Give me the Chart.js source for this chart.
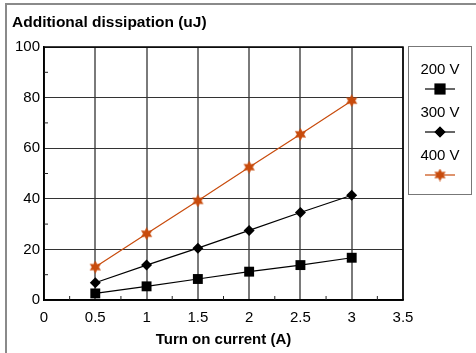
<!DOCTYPE html>
<html>
<head>
<meta charset="utf-8">
<script src="https://cdn.jsdelivr.net/npm/chart.js@4/dist/chart.umd.min.js"></script>
<style>
  body { margin: 0; background: #fff; }
  #wrap { width: 476px; height: 353px; position: relative; }
</style>
</head>
<body>
<div id="wrap"><canvas id="graph" width="476" height="353"></canvas></div>
<script>
// data
var currents = [0.5, 1, 1.5, 2, 2.5, 3];
var v200 = [2.6, 5.4, 8.3, 11.2, 13.8, 16.7];
var v300 = [6.8, 13.8, 20.5, 27.5, 34.6, 41.4];
var v400 = [13.0, 26.2, 39.2, 52.5, 65.5, 78.8];
var seriesNames = ['200 V', '300 V', '400 V'];
var xTicks = [0, 0.5, 1, 1.5, 2, 2.5, 3, 3.5];
var yTicks = [0, 20, 40, 60, 80, 100];

var FONT = '"Liberation Sans", Arial, sans-serif';
var ORANGE = '#c84b0c';

// filled six-point star marker
function starMarker(size, color) {
    var c = document.createElement('canvas');
    c.width = size; c.height = size;
    var g = c.getContext('2d');
    var r = size / 2;
    g.fillStyle = color;
    g.beginPath();
    for (var i = 0; i < 12; i++) {
        var a = -Math.PI / 2 + i * Math.PI / 6;
        var rr = i % 2 ? r * 0.55 : r;
        g.lineTo(r + rr * Math.cos(a), r + rr * Math.sin(a));
    }
    g.closePath();
    g.fill();
    return c;
}
var star = starMarker(13, ORANGE);

function pts(ys) {
    return currents.map(function(x, i) { return { x: x, y: ys[i] }; });
}

var decor = {
    id: 'decor',
    afterDraw: function(chart) {
        var ctx = chart.ctx, a = chart.chartArea;
        var xs = chart.scales.x, ys = chart.scales.y;
        ctx.save();
        // outer frame (top + left only)
        ctx.strokeStyle = '#8a8a8a';
        ctx.lineWidth = 2;
        ctx.beginPath();
        ctx.moveTo(6, 353); ctx.lineTo(6, 4); ctx.lineTo(476, 4);
        ctx.stroke();

        // plot frame
        ctx.strokeStyle = '#000';
        ctx.lineWidth = 1.5;
        ctx.strokeRect(a.left, a.top, a.right - a.left, a.bottom - a.top);

        // minor ticks inside
        ctx.lineWidth = 1;
        ctx.strokeStyle = '#222';
        ctx.beginPath();
        for (var v = 0.25; v < 3.5; v += 0.5) {
            var px = xs.getPixelForValue(v);
            ctx.moveTo(px, a.bottom); ctx.lineTo(px, a.bottom - 4);
        }
        for (var w = 10; w < 100; w += 20) {
            var py = ys.getPixelForValue(w);
            ctx.moveTo(a.left, py); ctx.lineTo(a.left + 4, py);
        }
        ctx.stroke();

        // title
        ctx.fillStyle = '#000';
        ctx.font = 'bold 15.5px ' + FONT;
        ctx.textAlign = 'left';
        ctx.textBaseline = 'alphabetic';
        ctx.fillText('Additional dissipation (uJ)', 12, 27);

        // legend box
        ctx.strokeStyle = '#777';
        ctx.lineWidth = 1;
        ctx.strokeRect(408.5, 46.5, 63, 148);
        ctx.font = '15px ' + FONT;
        ctx.textAlign = 'center';
        ctx.textBaseline = 'middle';
        var cx = 440;
        chart.data.datasets.forEach(function(ds, i) {
            var ty = 70 + i * 43;
            var my = ty + 19;
            ctx.fillStyle = '#000';
            ctx.fillText(ds.label, cx, ty);
            ctx.strokeStyle = ds.borderColor;
            ctx.lineWidth = 1.2;
            ctx.beginPath();
            ctx.moveTo(425, my); ctx.lineTo(455, my);
            ctx.stroke();
            Chart.helpers.drawPoint(ctx, {
                pointStyle: ds.pointStyle,
                radius: ds.pointRadius,
                borderWidth: 0
            }, cx, my);
            if (ds.pointStyle === 'rect' || ds.pointStyle === 'rectRot') {
                ctx.fillStyle = ds.pointBackgroundColor;
                ctx.beginPath();
                if (ds.pointStyle === 'rect') {
                    var s = ds.pointRadius * 0.8;
                    ctx.rect(cx - s, my - s, 2 * s, 2 * s);
                } else {
                    var r = ds.pointRadius;
                    ctx.moveTo(cx, my - r); ctx.lineTo(cx + r, my);
                    ctx.lineTo(cx, my + r); ctx.lineTo(cx - r, my);
                    ctx.closePath();
                }
                ctx.fill();
            }
        });
        ctx.restore();
    }
};

var ctx = document.getElementById('graph').getContext('2d');
var chart = new Chart(ctx, {
    type: 'line',
    data: {
        datasets: [{
            label: seriesNames[0],
            data: pts(v200),
            borderColor: '#000',
            borderWidth: 1.2,
            pointStyle: 'rect',
            pointRadius: 7,
            pointBackgroundColor: '#000',
            pointBorderColor: '#000',
            pointBorderWidth: 0
        }, {
            label: seriesNames[1],
            data: pts(v300),
            borderColor: '#000',
            borderWidth: 1.2,
            pointStyle: 'rectRot',
            pointRadius: 5.5,
            pointBackgroundColor: '#000',
            pointBorderColor: '#000',
            pointBorderWidth: 0
        }, {
            label: seriesNames[2],
            data: pts(v400),
            borderColor: ORANGE,
            borderWidth: 1.2,
            pointStyle: star,
            pointRadius: 6,
            pointBackgroundColor: ORANGE,
            pointBorderColor: ORANGE
        }]
    },
    options: {
        responsive: false,
        animation: false,
        events: [],
        layout: { padding: { left: 0, right: 73, top: 47, bottom: 0 } },
        plugins: {
            legend: { display: false },
            tooltip: { enabled: false }
        },
        scales: {
            x: {
                type: 'linear',
                min: 0,
                max: 3.5,
                afterBuildTicks: function(s) { s.ticks = xTicks.map(function(v) { return { value: v }; }); },
                afterFit: function(s) { s.height = 53; },
                ticks: {
                    color: '#000',
                    font: { family: FONT, size: 15 },
                    padding: 9,
                    maxRotation: 0,
                    callback: function(v) { return String(v); }
                },
                grid: { color: '#7a7a7a', lineWidth: 2, drawTicks: false },
                border: { color: '#000', width: 1.5 },
                title: {
                    display: true,
                    text: 'Turn on current (A)',
                    color: '#000',
                    font: { family: FONT, size: 15, weight: 'bold' },
                    padding: { top: 0, bottom: 4 }
                }
            },
            y: {
                min: 0,
                max: 100,
                afterBuildTicks: function(s) { s.ticks = yTicks.map(function(v) { return { value: v }; }); },
                afterFit: function(s) { s.width = 44; },
                ticks: {
                    color: '#000',
                    font: { family: FONT, size: 15 },
                    padding: 4
                },
                grid: { color: '#333', lineWidth: 1, drawTicks: false },
                border: { color: '#000', width: 1.5 }
            }
        }
    },
    plugins: [decor]
});
</script>
</body>
</html>
